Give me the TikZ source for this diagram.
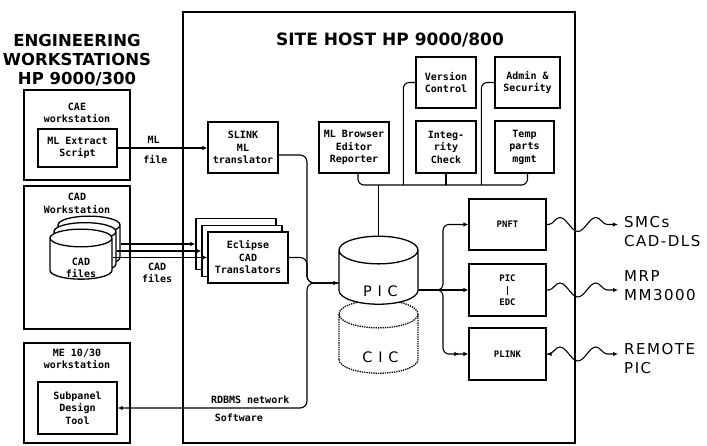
\documentclass[tikz,border=0pt]{standalone}
\usepackage{fontspec}
\usepackage{tikz}
\usetikzlibrary{arrows.meta,shapes.geometric,decorations.pathmorphing}
\newfontfamily\boxfont{DejaVu Sans Mono}
\newfontfamily\headfont{DejaVu Sans}
\newfontfamily\sidefont[LetterSpace=10]{DejaVu Sans}
\newfontfamily\dbfont[LetterSpace=40]{DejaVu Sans}

\begin{document}
\begin{tikzpicture}[x=1pt,y=-1pt,
  every node/.style={font=\boxfont\bfseries\fontsize{10}{12.5}\selectfont,align=center,inner sep=1pt},
  host/.style={draw,line width=1.8pt},
  ws/.style={draw,line width=1.3pt,minimum width=106},
  box/.style={draw,line width=1.3pt,fill=white,inner sep=2pt},
  db/.style={cylinder,shape border rotate=90,aspect=0.71,draw,line width=1.3pt,fill=white,minimum width=79},
  dblbl/.style={font=\dbfont\fontsize{14.5}{16}\selectfont,yshift=-12pt,xshift=2pt},
  ttl/.style={font=\headfont\bfseries\fontsize{16.5}{19}\selectfont},
  side/.style={font=\sidefont\fontsize{15}{19}\selectfont,align=left,anchor=west},
  ln/.style={line width=1.1pt},
  ar/.style={ln,-{Latex[length=5pt,width=4.5pt]}},
  wave/.style={ln,decorate,decoration={snake,amplitude=7pt,segment length=36pt,pre length=2pt,post length=3pt}}]
\useasboundingbox (0,0) rectangle (707,446);
% site host
\node[host,minimum width=392,minimum height=431] (host) at (379,227.5) {};
\node[ttl,font=\headfont\bfseries\fontsize{17}{20}\selectfont] (hosttitle) at (390,40) {SITE HOST HP 9000/800};
\node[ttl] (engtitle) at (77,60) {ENGINEERING\\WORKSTATIONS\\HP 9000/300};
% workstations
\node[ws,minimum height=90] (cae) at (77,135) {};
\node (caelbl) at (77,113) {CAE\\workstation};
\node[box,minimum width=79,minimum height=38] (mlx) at (77.5,148) {ML Extract\\Script};
\node[ws,minimum height=143] (cad) at (77,257.5) {};
\node (cadlbl) at (77,203.5) {CAD\\Workstation};
\node[db,minimum width=62,minimum height=50,aspect=0.55] (cf3) at (89,247) {\phantom{files}};
\node[db,minimum width=62,minimum height=50,aspect=0.55] (cf2) at (85,253.5) {\phantom{files}};
\node[db,minimum width=62,minimum height=50,aspect=0.55,label={[align=center,yshift=-8pt]center:CAD\\files}] (cf1) at (81,260) {\phantom{files}};
\node[ws,minimum height=100] (me) at (77,393) {};
\node (melbl) at (77,359) {ME 10/30\\workstation};
\node[box,minimum width=79,minimum height=52] (sub) at (77.5,408) {Subpanel\\Design\\Tool};
% host boxes
\node[box,minimum width=70,minimum height=51] (slink) at (243,147.5) {SLINK\\ML\\translator};
\node[box,minimum width=70,minimum height=51] (mlb) at (354,147.5) {ML Browser\\Editor\\Reporter};
\node[box,minimum width=60,minimum height=51] (ver) at (446,82.5) {Version\\Control};
\node[box,minimum width=60,minimum height=52] (int) at (446,147) {Integ-\\rity\\Check};
\node[box,minimum width=65,minimum height=51] (adm) at (527.5,82.5) {Admin \&\\Security};
\node[box,minimum width=59,minimum height=52] (tmp) at (524.5,147) {Temp\\parts\\mgmt};
\node[box,minimum width=80,minimum height=51] (ec3) at (236,244) {};
\node[box,minimum width=80,minimum height=51] (ec2) at (242,251) {};
\node[box,minimum width=80,minimum height=51] (ec1) at (248,257.5) {Eclipse\\CAD\\Translators};
\node[db,densely dotted,minimum height=73,label={[dblbl]center:CIC}] (cic) at (378.5,345.5) {\dbfont\fontsize{14}{16}\selectfont\phantom{CIC}};
\node[db,minimum height=68,label={[dblbl]center:PIC}] (pic) at (378.5,279) {\dbfont\fontsize{14}{16}\selectfont\phantom{PIC}};
\node[box,minimum width=77,minimum height=51,font=\boxfont\bfseries\fontsize{9}{12}\selectfont] (pnft) at (507.5,224.5) {PNFT};
\node[box,minimum width=77,minimum height=52,font=\boxfont\bfseries\fontsize{9}{12}\selectfont] (pec) at (507.5,290) {PIC\\|\\EDC};
\node[box,minimum width=77,minimum height=52,font=\boxfont\bfseries\fontsize{9}{12}\selectfont] (plk) at (507.5,354) {PLINK};
% outside systems
\node[side] (smc) at (623,232) {SMCs\\CAD-DLS};
\node[side] (mrp) at (623,286) {MRP\\MM3000};
\node[side] (rpic) at (623,359) {REMOTE\\PIC};
% connectors
\coordinate (jn) at (307,283);
\coordinate (bus) at (379,185);
\coordinate (pj) at (443,290);
\draw[ar] (mlx.east) -- node[above=3pt,pos=0.4]{ML} node[below=6pt,pos=0.42]{file} (mlx.east -| slink.west);
\draw[ar] (cf3.east |- ec3.west) -- (ec3.west);
\draw[ar] (cf2.east |- ec2.west) -- (ec2.west);
\draw[ar] (cf1.east |- ec1.west) -- node[below=4pt,pos=0.47]{CAD\\files} (ec1.west);
\draw[ar,rounded corners=7] ([yshift=-7.5]slink.east) -| (jn) -- (pic.west |- jn);
\draw[ln,rounded corners=7] (ec1.east) -| (jn) -- (pic.west |- jn);
\draw[ar,rounded corners=7] (pic.west |- jn) -- (jn) |- node[pos=0.65,above=3pt]{RDBMS network} node[pos=0.68,below=4pt]{Software} (sub.east);
\draw[ln] (pic.north) -- (pic.north |- bus);
\draw[ln,rounded corners=6] ([xshift=4]mlb.south) |- (bus) -| ([xshift=3]tmp.south);
\draw[ln] (int.south) -- (int.south |- bus);
\draw[ln,rounded corners=6] (ver.west) -| ([xshift=-12]ver.west |- bus);
\draw[ln,rounded corners=6] (adm.west) -| ([xshift=-13]adm.west |- bus);
\draw[ar,rounded corners=6] (pic.east |- pj) -- (pj) |- (pnft.west);
\draw[ar] (pic.east |- pj) -- (pec.west);
\draw[ln,-{Latex[length=5pt,width=4.5pt,sep=4pt]Latex[length=5pt,width=4.5pt]},rounded corners=6] (pic.east |- pj) -- (pj) |- (plk.west);
\draw[wave,->,>={Latex[length=5pt,width=4.5pt]}] (pnft.east) -- ([xshift=-5]smc.west |- pnft.east);
\draw[wave,->,>={Latex[length=5pt,width=4.5pt]}] (pec.east) -- ([xshift=-5]mrp.west |- pec.east);
\draw[wave,<->,>={Latex[length=5pt,width=4.5pt]}] (plk.east) -- ([xshift=-5]rpic.west |- plk.east);
\end{tikzpicture}
\end{document}
